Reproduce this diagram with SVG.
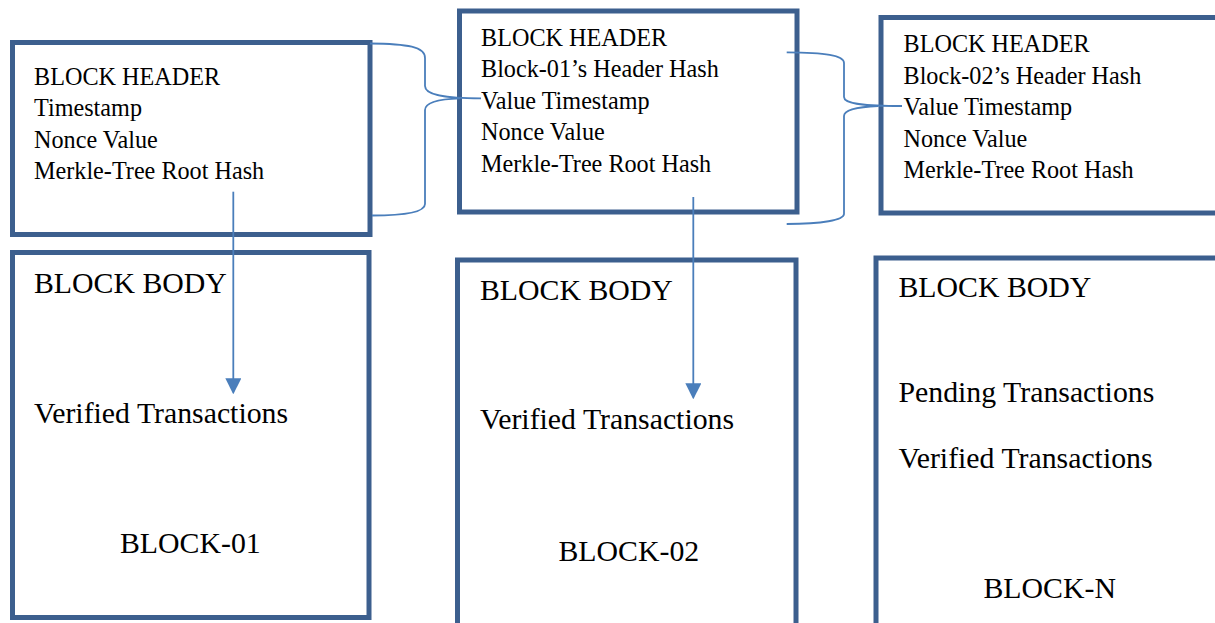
<svg xmlns="http://www.w3.org/2000/svg" width="1215" height="623" viewBox="0 0 1215 623">
  <style>
    .box { fill: #ffffff; stroke: #3c5f8e; stroke-width: 5; }
    .hdr { font-family: "Liberation Serif", "Times New Roman", serif; font-size: 24.2px; fill: #000000; }
    .body { font-family: "Liberation Serif", "Times New Roman", serif; font-size: 29.8px; fill: #000000; }
    .link { fill: none; stroke: #4a7ebb; stroke-width: 1.8; }
  </style>
  <defs>
    <marker id="arrow" markerUnits="userSpaceOnUse" markerWidth="16" markerHeight="17" refX="14" refY="8" orient="auto">
      <path d="M0,0 L16,8 L0,16 z" fill="#4a7ebb"/>
    </marker>
  </defs>
  <rect width="1215" height="623" fill="#ffffff"/>

  <!-- Block 01 -->
  <g id="block-01-header">
    <rect class="box" x="12.5" y="42.5" width="357.5" height="192"/>
    <text class="hdr" x="34" y="85">BLOCK HEADER</text>
    <text class="hdr" x="34" y="116.3">Timestamp</text>
    <text class="hdr" x="34" y="147.6">Nonce Value</text>
    <text class="hdr" x="34" y="178.9">Merkle-Tree Root Hash</text>
  </g>
  <g id="block-01-body">
    <rect class="box" x="12.5" y="252.5" width="356.5" height="365"/>
    <text class="body" x="34" y="292.7">BLOCK BODY</text>
    <text class="body" x="34" y="422.7">Verified Transactions</text>
    <text class="body" x="120" y="553.3">BLOCK-01</text>
  </g>

  <!-- Block 02 -->
  <g id="block-02-header">
    <rect class="box" x="459.5" y="11" width="337.5" height="201"/>
    <text class="hdr" x="481" y="45.7">BLOCK HEADER</text>
    <text class="hdr" x="481" y="77.3">Block-01’s Header Hash</text>
    <text class="hdr" x="481" y="109">Value Timestamp</text>
    <text class="hdr" x="481" y="140.4">Nonce Value</text>
    <text class="hdr" x="481" y="172">Merkle-Tree Root Hash</text>
  </g>
  <g id="block-02-body">
    <rect class="box" x="457.5" y="260" width="338.5" height="400"/>
    <text class="body" x="480" y="300">BLOCK BODY</text>
    <text class="body" x="480" y="429.3">Verified Transactions</text>
    <text class="body" x="558.5" y="560.7">BLOCK-02</text>
  </g>

  <!-- Block N -->
  <g id="block-n-header">
    <rect class="box" x="881" y="17.5" width="360" height="195.5"/>
    <text class="hdr" x="903.5" y="52.3">BLOCK HEADER</text>
    <text class="hdr" x="903.5" y="83.7">Block-02’s Header Hash</text>
    <text class="hdr" x="903.5" y="115.3">Value Timestamp</text>
    <text class="hdr" x="903.5" y="146.7">Nonce Value</text>
    <text class="hdr" x="903.5" y="178.3">Merkle-Tree Root Hash</text>
  </g>
  <g id="block-n-body">
    <rect class="box" x="876" y="258" width="360" height="400"/>
    <text class="body" x="898.5" y="297.3">BLOCK BODY</text>
    <text class="body" x="898.5" y="401.7">Pending Transactions</text>
    <text class="body" x="898.5" y="467.7">Verified Transactions</text>
    <text class="body" x="983.5" y="598.3">BLOCK-N</text>
  </g>

  <!-- Connectors: header braces into the next block, Merkle root arrows into the body -->
  <g id="connectors">
    <path class="link" d="M370,43.5 C408,43.8 425,47 425,58 L425,86 C425,94 440,98.3 481,98.3"/>
    <path class="link" d="M460,98.3 C440,99 425,102 425,110 L425,204 C425,212 405,215.5 372,215.5"/>
    <path class="link" d="M786.7,52.3 C825,52.6 844,55 844,63 L844,97 C844,103 858,106 902,106"/>
    <path class="link" d="M878,106 C858,107 844,110 844,116 L844,214 C844,220 822,224 786.7,224"/>
    <line class="link" x1="233.3" y1="191.7" x2="233.3" y2="392.3" marker-end="url(#arrow)"/>
    <line class="link" x1="693.3" y1="197" x2="693.3" y2="397.3" marker-end="url(#arrow)"/>
  </g>
</svg>
